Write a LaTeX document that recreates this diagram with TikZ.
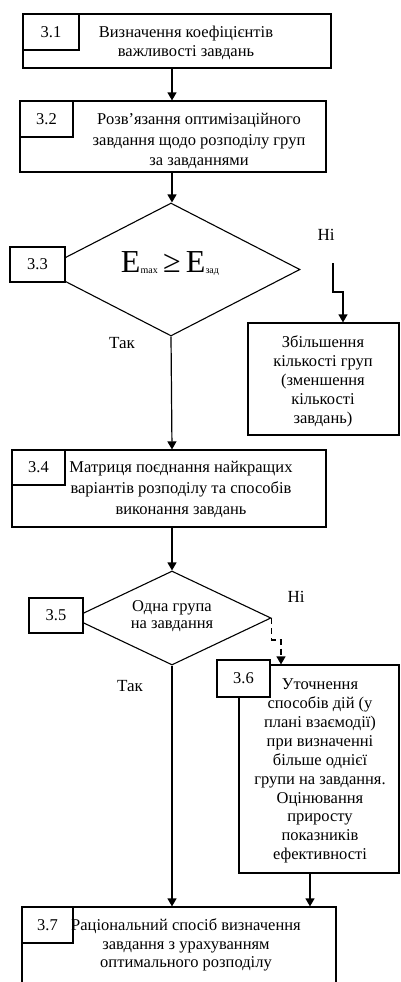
\documentclass[tikz,border=0pt]{standalone}
\usepackage{fontspec}
\setmainfont{Liberation Serif}
\usetikzlibrary{arrows.meta,shapes.geometric}
\begin{document}
\begin{tikzpicture}[x=1pt,y=-1pt,
  box/.style={draw,line width=1.2pt,inner sep=0pt,fill=white},
  lbl/.style={draw,line width=1.2pt,fill=white,inner sep=0pt,font=\fontsize{16.5}{18}\selectfont},
  dia/.style={draw,line width=1.1pt,shape=diamond,inner sep=0pt},
  txt/.style={align=center,inner sep=0pt,font=\fontsize{16.5}{19.5}\selectfont},
  ans/.style={inner sep=0pt,font=\fontsize{17}{19}\selectfont},
  arr/.style={line width=1.2pt,-{Triangle[width=9pt,length=8pt]}},
  ]
\clip (0,0) rectangle (400,982);
\useasboundingbox (0,0) rectangle (400,982);
\coordinate (axis) at (172,0);
\coordinate (nx) at (343,0);
\coordinate (dx) at (281,0);
\coordinate (sx) at (310,0);

% 3.1
\node[box,minimum width=308pt,minimum height=54pt] (b31) at (177,41) {};
\node[lbl,minimum width=56pt,minimum height=36pt] (l31) at (51,32) {3.1};
\node[txt] (t31) at (186,43) {Визначення коефіцієнтів\\важливості завдань};

% 3.2
\node[box,minimum width=306pt,minimum height=71pt] (b32) at (173,136.5) {};
\node[lbl,minimum width=53pt,minimum height=36pt] (l32) at (46.5,119) {3.2};
\node[txt,font=\fontsize{16.5}{20.5}\selectfont] (t32) at (199,141) {Розв’язання оптимізаційного\\завдання щодо розподілу груп\\за завданнями};

% 3.3
\node[dia,minimum width=258pt,minimum height=133pt,aspect=1.94] (d33) at (171,269.5) {};
\node[lbl,minimum width=55pt,minimum height=35pt] (l33) at (37.5,264.5) {3.3};
\node[inner sep=0pt,font=\fontsize{32}{34}\selectfont] (t33) at (170,263)
  {E\raisebox{-1pt}{\fontsize{10}{10}\selectfont max}\,≥\,E\raisebox{-1pt}{\fontsize{10}{10}\selectfont зад}};
\node[ans] (n33) at (326,235) {Ні};
\node[ans] (y33) at (122,343) {Так};

% increase
\node[box,minimum width=151pt,minimum height=112pt] (inc) at (323.5,379) {};
\node[txt,font=\fontsize{16.5}{19}\selectfont] (tinc) at (323,381) {Збільшення\\кількості груп\\(зменшення\\кількості\\завдань)};

% 3.4
\node[box,minimum width=314pt,minimum height=77pt] (b34) at (169,488.5) {};
\node[lbl,minimum width=53pt,minimum height=35pt] (l34) at (38.5,467.5) {3.4};
\node[txt,font=\fontsize{16.5}{21}\selectfont] (t34) at (181,489) {Матриця поєднання найкращих\\варіантів розподілу та способів\\виконання завдань};

% 3.5
\node[dia,minimum width=198pt,minimum height=94pt,aspect=2.1] (d35) at (172,618) {};
\node[lbl,minimum width=54pt,minimum height=35pt] (l35) at (56,615.5) {3.5};
\node[txt,font=\fontsize{16.5}{17.5}\selectfont] (t35) at (172,616) {Одна група\\на завдання};
\node[ans] (n35) at (296,597) {Ні};
\node[ans] (y35) at (130,686) {Так};

% 3.6
\node[box,minimum width=160pt,minimum height=208pt] (b36) at (319,769) {};
\node[lbl,minimum width=53pt,minimum height=37pt] (l36) at (243.5,678.5) {3.6};
\node[txt,font=\fontsize{16.5}{18.9}\selectfont] (t36) at (320,771) {Уточнення\\способів дій (у\\плані взаємодії)\\при визначенні\\більше однієї\\групи на завдання.\\Оцінювання\\приросту\\показників\\ефективності};

% 3.7
\node[box,minimum width=314pt,minimum height=93pt] (b37) at (179,953.5) {};
\node[lbl,minimum width=51pt,minimum height=36pt] (l37) at (47.5,925) {3.7};
\node[txt,font=\fontsize{16.5}{18.5}\selectfont] (t37) at (186,945) {Раціональний спосіб визначення\\завдання з урахуванням\\оптимального розподілу};

% connectors
\coordinate (n33s) at (333,263);
\draw[arr] (b31.south -| axis) -- (b32.north -| axis);
\draw[arr] (b32.south -| axis) -- (d33.north -| axis);
\draw[arr] (d33.south) -- (b34.north -| axis);
\draw[arr] (n33s) -- ++(0,29) -| (inc.north -| nx);
\draw[arr] (b34.south -| axis) -- (d35.north);
\draw[arr,dash pattern=on 6pt off 4pt] (d35.east) -- ++(0,22) -| (b36.north -| dx);
\draw[arr] (d35.south) -- (b37.north -| axis);
\draw[arr] (b36.south -| sx) -- (b37.north -| sx);
\end{tikzpicture}
\end{document}
